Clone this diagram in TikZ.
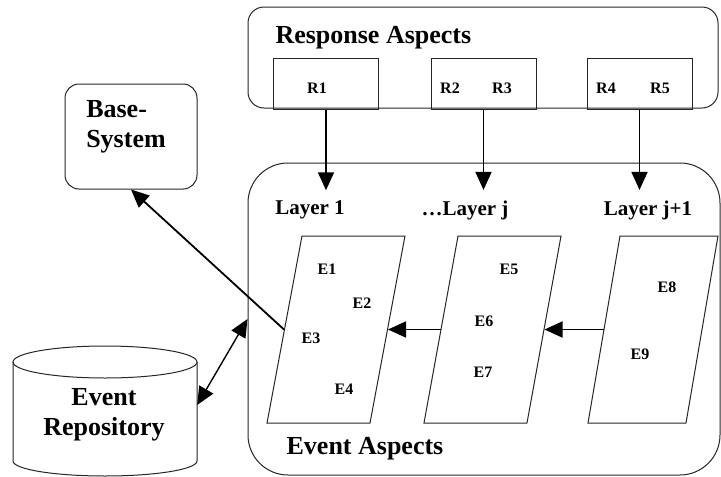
\documentclass[tikz,border=0pt]{standalone}
\usepackage{fontspec}
\setmainfont{Liberation Serif}
\usetikzlibrary{arrows.meta}

\tikzset{
  frame/.style={draw=black!85, line width=1pt},
  layerbox/.style={frame, minimum width=103pt, minimum height=187pt, inner sep=0pt, transform shape},
  rbox/.style={frame, minimum width=105pt, minimum height=51pt, inner sep=0pt},
  big/.style={font=\fontsize{26}{30}\selectfont\bfseries},
  small/.style={font=\fontsize{16}{18}\selectfont\bfseries},
  mid/.style={font=\fontsize{21}{24}\selectfont\bfseries},
  evtip/.tip={Triangle[length=18pt,width=16pt]},
  flow/.style={line width=1.8pt, -evtip},
}

\begin{document}
\begin{tikzpicture}[x=1pt, y=-1pt]
      \useasboundingbox (0,0) rectangle (721,477);

      % response aspects
      \node[frame, rounded corners=16pt, minimum width=470pt, minimum height=101pt] (resp) at (483,57.5) {};
      \node[big, anchor=west] (resptxt) at (272,38) {Response Aspects};
      \node[rbox] (r1) at (326,83.5) {};
      \node[rbox] (r23) at (483.5,83.5) {};
      \node[rbox] (r45) at (639.5,83.5) {};
      \node[small] (r1txt) at (317,88) {R1};
      \node[small] (r2txt) at (450,88) {R2};
      \node[small] (r3txt) at (502,88) {R3};
      \node[small] (r4txt) at (606,88) {R4};
      \node[small] (r5txt) at (660,88) {R5};

      % event aspects
      \node[frame, rounded corners=40pt, minimum width=472pt, minimum height=312pt] (events) at (484,319) {};
      \node[big] (evtxt) at (365,449) {Event Aspects};
      \node[mid] (lay1txt) at (310,210) {Layer 1};
      \node[mid] (layjtxt) at (465,210) {…Layer j};
      \node[mid] (layj1txt) at (648,210) {Layer j+1};

      \node[layerbox, xslant=0.187] (lay1) at (336,329.5) {};
      \node[layerbox, xslant=0.182] (layj) at (492.5,329.5) {};
      \node[layerbox, xslant=0.171, minimum width=98pt] (layj1) at (653,329.5) {};

      \node[small] (e1) at (327,269) {E1};
      \node[small] (e2) at (362,303) {E2};
      \node[small] (e3) at (311,338) {E3};
      \node[small] (e4) at (344,389) {E4};
      \node[small] (e5) at (509,269) {E5};
      \node[small] (e6) at (484,321) {E6};
      \node[small] (e7) at (483,372) {E7};
      \node[small] (e8) at (667,287) {E8};
      \node[small] (e9) at (640,354) {E9};

      % left side
      \node[frame, rounded corners=14pt, minimum width=132pt, minimum height=105pt] (base) at (131,136.5) {};
      \node[big, align=left] (basetxt) at (126,127) {Base-\\System};

      \node[minimum width=184pt, minimum height=132pt, inner sep=0pt] (repo) at (105,411) {};
      \draw[frame, fill=white] (13,362) -- (13,461) arc[start angle=180, end angle=0, x radius=92, y radius=15]
        -- (197,362);
      \draw[frame] (105,362) ellipse[x radius=92, y radius=16];
      \node[big, align=center] (repotxt) at (104,415) {Event\\Repository};

      % --------------------------------------------------------------------------
      \draw[flow, shorten >=7pt] (r1) -- (lay1txt.north -| r1);
      \draw[flow, shorten >=7pt] (r23) -- (layjtxt.north -| r23);
      \draw[flow, shorten >=7pt] (r45) -- (layj1txt.north -| r45);

      \draw[flow] (layj.west) -- (lay1.east);
      \draw[flow] (layj1.west) -- (layj.east);
      \draw[flow] (lay1.west) -- (base.south);
      \draw[line width=1.4pt, evtip-evtip] (events.west) -- ([yshift=6pt]repo.east);
    \end{tikzpicture}
\end{document}
